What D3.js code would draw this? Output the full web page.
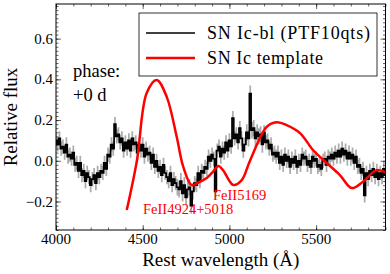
<!DOCTYPE html>
<html>
<head>
<meta charset="utf-8">
<script src="https://cdn.jsdelivr.net/npm/d3@7"></script>
<style>
  html, body { margin: 0; padding: 0; background: #fff; }
  svg text { font-family: "Liberation Serif", "Times New Roman", serif; }
</style>
</head>
<body>
<svg id="chart" width="390" height="274"></svg>
<script>
// observed spectrum (SN Ic-bl PTF10qts), sampled every 10 A from 4000 A
const obsStart = 4000, obsStep = 10;
const obsFlux = [
  0.10,0.08,0.11,0.06,0.07,0.04,0.08,0.02,0.03,0.01,
  0.04,-0.02,-0.01,-0.05,-0.01,-0.07,-0.05,-0.10,-0.06,-0.08,
  -0.12,-0.09,-0.07,-0.11,-0.06,-0.08,-0.05,-0.06,-0.01,-0.04,
  0.03,0.02,0.08,0.06,0.18,0.12,0.13,0.09,0.11,0.05,
  0.09,0.06,0.10,0.05,0.11,0.08,0.09,0.04,0.08,0.05,
  0.08,0.02,0.06,0.03,0.04,-0.01,0.03,-0.03,0.00,-0.05,
  -0.03,-0.07,-0.02,-0.06,-0.08,-0.10,-0.06,-0.12,-0.09,-0.11,
  -0.13,-0.14,-0.10,-0.16,-0.12,-0.18,-0.14,-0.13,-0.22,-0.15,
  -0.11,-0.12,-0.06,-0.10,-0.05,-0.06,-0.03,-0.04,0.02,0.00,
  0.03,0.01,-0.15,0.05,0.07,0.02,0.06,0.04,0.09,0.05,
  0.10,0.07,0.21,0.11,0.13,0.09,0.16,0.11,0.05,0.08,
  0.14,0.11,0.33,0.15,0.16,0.11,0.14,0.12,0.13,0.08,
  0.14,0.09,0.10,0.06,0.08,0.03,0.04,0.02,0.04,-0.01,
  0.02,-0.02,0.03,0.00,0.02,-0.03,0.01,-0.01,0.02,-0.03,
  0.00,-0.02,0.03,0.01,0.02,-0.02,0.00,-0.03,0.02,0.00,
  0.01,-0.03,-0.02,-0.04,0.00,0.01,-0.02,0.02,0.01,0.03,
  0.01,0.04,0.02,0.05,0.02,0.06,0.03,0.05,0.01,0.04,
  0.01,0.03,-0.01,0.02,-0.03,-0.02,-0.06,-0.04,-0.17,-0.06,
  -0.09,-0.05,-0.07,-0.04,-0.08,-0.05,-0.09,-0.06,-0.08,-0.04,
  -0.07];
// 1-sigma error, one value per 100 A block
const obsErrBlock = [0.035,0.035,0.035,0.035,0.035,0.035,0.035,0.04,0.035,0.035,
  0.035,0.04,0.035,0.035,0.035,0.035,0.035,0.035,0.035,0.035];

// SN Ic template
const tmplWave = [4408,4467,4523,4581,4638,4696,4734,4782,4819,4869,4905,4936,4963,5022,5071,5118,5215,5272,5330,5407,5482,5561,5637,5705,5770,5849,5906];
const tmplFlux = [-0.242,0.003,0.333,0.397,0.315,0.118,-0.03,-0.119,-0.108,-0.085,-0.054,-0.026,-0.046,-0.119,-0.095,-0.001,0.167,0.189,0.175,0.136,0.053,-0.011,-0.070,-0.134,-0.103,-0.046,-0.06];

const xTicks = [4000, 4500, 5000, 5500];
const yTicks = [-0.2, 0.0, 0.2, 0.4, 0.6];

const margin = {left: 56, top: 4, right: 4.5, bottom: 44};
const W = 390, H = 274;

const svg = d3.select("#chart");

const x = d3.scaleLinear().domain([4000, 5900]).range([margin.left, W - margin.right]);
const y = d3.scaleLinear().domain([-0.34, 0.77]).range([H - margin.bottom, margin.top]);

const x0 = x.range()[0], x1 = x.range()[1], y0 = y.range()[0], y1 = y.range()[1];

svg.append("clipPath").attr("id", "clip")
    .append("rect").attr("x", x0).attr("y", y1).attr("width", x1 - x0).attr("height", y0 - y1);

const obs = obsFlux.map((f, i) => ({
    w: obsStart + i * obsStep,
    f: f,
    e: obsErrBlock[Math.min(Math.floor(i / 10), obsErrBlock.length - 1)]
}));
const tmpl = tmplWave.map((w, i) => ({w: w, f: tmplFlux[i]}));

const plot = svg.append("g").attr("clip-path", "url(#clip)");

// error band
plot.append("path")
    .datum(obs)
    .attr("d", d3.area().curve(d3.curveStep)
        .x(d => x(d.w)).y0(d => y(d.f - d.e)).y1(d => y(d.f + d.e)))
    .attr("fill", "#acacac");

plot.append("path")
    .datum(obs)
    .attr("d", d3.line().curve(d3.curveStep).x(d => x(d.w)).y(d => y(d.f)))
    .attr("fill", "none")
    .attr("stroke", "#000")
    .attr("stroke-width", 1.7);

plot.append("path")
    .datum(tmpl)
    .attr("d", d3.line().curve(d3.curveCatmullRom).x(d => x(d.w)).y(d => y(d.f)))
    .attr("fill", "none")
    .attr("stroke", "#ff0000")
    .attr("stroke-width", 2.5);

// axes with inward ticks on all four sides
function ticks(axis, vals, size) {
    return axis.tickValues(vals).tickSizeInner(-size).tickSizeOuter(0).tickFormat("");
}
const xMinor = d3.range(4000, 5901, 100);
const yMinor = d3.range(-0.34, 0.771, 0.02).map(v => Math.round(v * 100) / 100);

const axisG = svg.append("g");
axisG.append("g").attr("transform", `translate(0,${y0})`).call(ticks(d3.axisBottom(x), xMinor, 2.5));
axisG.append("g").attr("transform", `translate(0,${y0})`).call(ticks(d3.axisBottom(x), xTicks, 5));
axisG.append("g").attr("transform", `translate(0,${y1})`).call(ticks(d3.axisTop(x), xMinor, 2.5));
axisG.append("g").attr("transform", `translate(0,${y1})`).call(ticks(d3.axisTop(x), xTicks, 5));
axisG.append("g").attr("transform", `translate(${x0},0)`).call(ticks(d3.axisLeft(y), yMinor, 2.5));
axisG.append("g").attr("transform", `translate(${x0},0)`).call(ticks(d3.axisLeft(y), yTicks, 5));
axisG.append("g").attr("transform", `translate(${x1},0)`).call(ticks(d3.axisRight(y), yMinor, 2.5));
axisG.append("g").attr("transform", `translate(${x1},0)`).call(ticks(d3.axisRight(y), yTicks, 5));
axisG.selectAll(".domain").remove();
axisG.selectAll("line").attr("stroke", "#000").attr("stroke-width", 0.6);

svg.append("rect")
    .attr("x", x0).attr("y", y1).attr("width", x1 - x0).attr("height", y0 - y1)
    .attr("fill", "none").attr("stroke", "#000").attr("stroke-width", 1);

// tick labels
svg.selectAll(".xl").data(xTicks).enter().append("text")
    .attr("x", d => x(d)).attr("y", y0 + 13.5)
    .attr("text-anchor", "middle").attr("font-size", 15)
    .text(d => d);

svg.selectAll(".yl").data(yTicks).enter().append("text")
    .attr("x", x0 - 3).attr("y", d => y(d)).attr("dy", "0.34em")
    .attr("text-anchor", "end").attr("font-size", 15)
    .text(d => d3.format(".1f")(d).replace("-", "\u2212"));

// axis titles
svg.append("text")
    .attr("x", (x0 + x1) / 2).attr("y", 266)
    .attr("text-anchor", "middle").attr("font-size", 19)
    .text("Rest wavelength (\u00c5)");

svg.append("text")
    .attr("transform", `translate(17,${(y0 + y1) / 2}) rotate(-90)`)
    .attr("text-anchor", "middle").attr("font-size", 19)
    .text("Relative flux");

// legend
const leg = svg.append("g");
leg.append("rect").attr("x", 139).attr("y", 13).attr("width", 238).attr("height", 63)
    .attr("fill", "#fff").attr("stroke", "#000").attr("stroke-width", 0.8);
leg.append("line").attr("x1", 146).attr("x2", 195).attr("y1", 33).attr("y2", 33)
    .attr("stroke", "#000").attr("stroke-width", 1.7);
leg.append("line").attr("x1", 146).attr("x2", 195).attr("y1", 58).attr("y2", 58)
    .attr("stroke", "#ff0000").attr("stroke-width", 2.5);
leg.append("text").attr("x", 207).attr("y", 33).attr("dy", "0.33em").attr("font-size", 18)
    .attr("textLength", 163)
    .text("SN Ic-bl (PTF10qts)");
leg.append("text").attr("x", 207).attr("y", 58).attr("dy", "0.33em").attr("font-size", 18)
    .attr("textLength", 116)
    .text("SN Ic template");

// phase note
svg.append("text").attr("x", 73).attr("y", 77).attr("font-size", 18.5).text("phase:");
svg.append("text").attr("x", 73).attr("y", 101).attr("font-size", 18.5).text("+0 d");

// line annotations
svg.append("text").attr("x", 143).attr("y", 214).attr("font-size", 14.5).attr("fill", "#ff0000")
    .text("FeII4924+5018");
svg.append("text").attr("x", 213).attr("y", 200).attr("font-size", 14.5).attr("fill", "#ff0000")
    .text("FeII5169");
</script>
</body>
</html>
